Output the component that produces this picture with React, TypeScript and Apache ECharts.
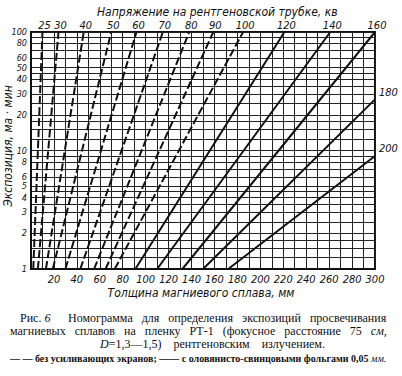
import React, { useEffect, useRef } from 'react';
import * as echarts from 'echarts';

// Tube voltage (kV) of each nomogram line
const voltages = ['25', '30', '40', '50', '60', '70', '80', '90', '100', '120', '140', '160', '180', '200'];
// Thickness (mm) where each line meets exposure = 1 ma·min
const startThickness = [2, 6, 13, 19, 30, 43, 55, 65, 73, 91, 110, 132, 150, 172];
const startExposure = [1, 1, 1, 1, 1, 1, 1, 1, 1, 1, 1, 1, 1, 1];
// Thickness (mm) and exposure at the upper end of each line
const endThickness = [10, 24, 46, 70, 92, 115, 138, 159, 185, 221, 261, 300, 300, 300];
const endExposure = [100, 100, 100, 100, 100, 100, 100, 100, 100, 100, 100, 100, 27, 9];
// true = without intensifying screens (dashed), false = with Sn-Pb foils (solid)
const dashedLines = [true, true, true, true, true, true, true, true, true, false, false, false, false, false];

const yLabelValues = [1, 2, 3, 4, 5, 6, 8, 10, 20, 30, 40, 50, 60, 80, 100];
const yGridValues = [1, 1.25, 1.5, 1.75, 2, 2.5, 3, 3.5, 4, 4.5, 5, 6, 7, 8, 9, 10,
  12.5, 15, 17.5, 20, 25, 30, 35, 40, 45, 50, 60, 70, 80, 90, 100];

const condensed = '"DejaVu Sans Condensed", "Liberation Sans Narrow", "DejaVu Sans", sans-serif';
const serif = '"Liberation Serif", "DejaVu Serif", serif';

export default function App() {
  const ref = useRef<HTMLDivElement>(null);
  useEffect(() => {
    if (!ref.current) return;
    const chart = echarts.init(ref.current, undefined, { renderer: 'svg' });

    const series = voltages.map((v, i) => {
      const isRight = endThickness[i] >= 300 && endExposure[i] < 100;
      return {
        type: 'line',
        name: v,
        silent: true,
        clip: false,
        symbol: 'circle',
        symbolSize: 0,
        showSymbol: true,
        lineStyle: { color: '#111', width: 2, type: dashedLines[i] ? [8, 3] : 'solid' },
        itemStyle: { color: '#111' },
        data: [
          [startThickness[i], startExposure[i]],
          {
            value: [endThickness[i], endExposure[i]],
            label: {
              show: true,
              formatter: v,
              position: isRight ? 'right' : 'top',
              distance: isRight ? 4 : 1,
              offset: isRight ? [0, -7] : [2, 0],
              color: '#111',
              fontSize: 11,
              lineHeight: 11,
              fontStyle: 'italic',
              fontFamily: condensed,
            },
          },
        ],
      };
    });

    const capFont = `12px ${serif}`;
    const capItalic = `italic 12px ${serif}`;
    const rich = {
      a: { font: capFont, fill: '#111', lineHeight: 12 },
      i: { font: capItalic, fill: '#111', lineHeight: 12 },
    };

    chart.setOption({
      animation: false,
      backgroundColor: '#fff',
      grid: { left: 31, right: 27, top: 32, bottom: 107, show: true, borderColor: '#111', borderWidth: 2, backgroundColor: 'transparent' },
      xAxis: {
        type: 'value',
        min: 0,
        max: 300,
        interval: 10,
        axisLine: { show: true, lineStyle: { color: '#111', width: 2 } },
        axisTick: { show: false },
        splitLine: { show: true, lineStyle: { color: '#222', width: 1 } },
        axisLabel: {
          color: '#111',
          fontSize: 11,
          fontStyle: 'italic',
          fontFamily: condensed,
          margin: 5,
          formatter: (val: number) => (val > 0 && val % 20 === 0 ? String(val) : ''),
        },
      },
      yAxis: {
        type: 'log',
        logBase: 10,
        min: 1,
        max: 100,
        axisLine: { show: true, lineStyle: { color: '#111', width: 2 } },
        axisTick: { show: false, customValues: yGridValues },
        splitLine: { show: true, lineStyle: { color: '#222', width: 1 } },
        axisLabel: {
          customValues: yLabelValues,
          color: '#111',
          fontSize: 9,
          lineHeight: 9,
          fontStyle: 'italic',
          fontFamily: condensed,
          margin: 4,
        },
      },
      series,
      graphic: [
        {
          type: 'text', left: 97, top: 6,
          style: { text: 'Напряжение на рентгеновской трубке, кв', fill: '#111', font: `italic 12px ${condensed}`, lineHeight: 12 },
        },
        {
          type: 'text', x: 201, y: 293,
          style: { text: 'Толщина магниевого сплава, мм', fill: '#111', font: `italic 12px ${condensed}`, textAlign: 'center', textVerticalAlign: 'middle' },
        },
        {
          type: 'text', x: 8, y: 146, rotation: Math.PI / 2,
          style: { text: 'Экспозиция, ма · мин', fill: '#111', font: `italic 12px ${condensed}`, textAlign: 'center', textVerticalAlign: 'middle' },
        },
        {
          type: 'text', left: 20, top: 312,
          style: { text: '{a|Рис. }{i|6}', rich },
        },
        {
          type: 'text', left: 68, top: 312,
          style: { text: '{a|Номограмма   для   определения   экспозиций   просвечивания}', rich },
        },
        {
          type: 'text', left: 10, top: 325,
          style: { text: '{a|магниевых   сплавов   на   пленку   РТ-1   (фокусное   расстояние   75   }{i|см,}', rich },
        },
        {
          type: 'text', left: 100, top: 338,
          style: { text: '{i|D}{a|=1,3—1,5)    рентгеновским    излучением.}', rich },
        },
        {
          type: 'text', left: 10, top: 353,
          style: {
            text: '{a|— — без усиливающих экранов; —— с оловянисто-свинцовыми фольгами 0,05 }{i|мм.}',
            rich: {
              a: { font: `bold 10px ${serif}`, fill: '#111', lineHeight: 10 },
              i: { font: `italic 10px ${serif}`, fill: '#111', lineHeight: 10 },
            },
          },
        },
      ],
    });
    return () => chart.dispose();
  }, []);
  return <div ref={ref} style={{ position: 'fixed', left: 0, top: 0, width: 402, height: 376 }} />;
}
